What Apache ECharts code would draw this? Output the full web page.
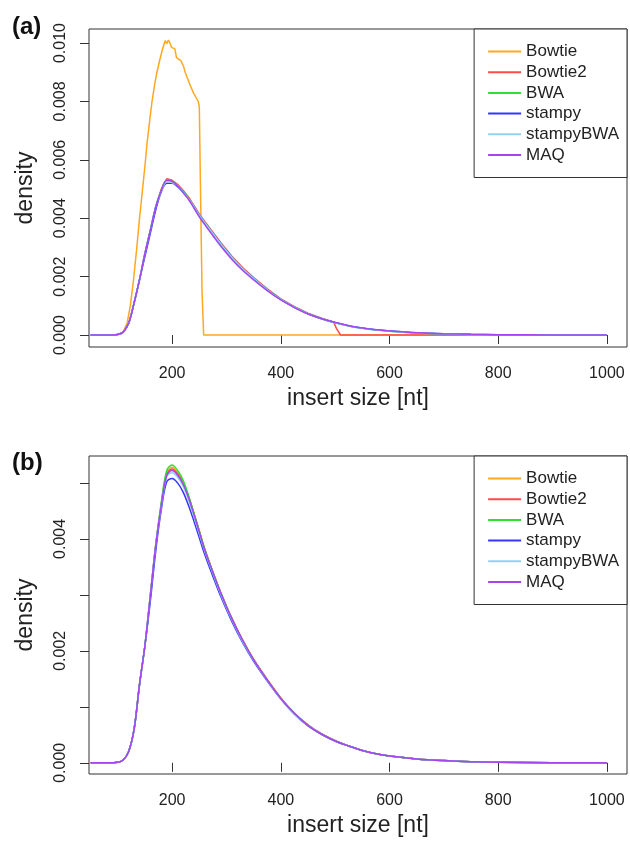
<!DOCTYPE html>
<html>
<head>
<meta charset="utf-8">
<script src="https://cdn.jsdelivr.net/npm/echarts@6/dist/echarts.min.js"></script>
<style>
  html, body { margin: 0; padding: 0; background: #fff; }
</style>
</head>
<body>
<div id="main" style="width: 630px;height:845px;"></div>
<script>
// tools, in legend order
const names = ['Bowtie', 'Bowtie2', 'BWA', 'stampy', 'stampyBWA', 'MAQ'];
const colors = ['#FFA820', '#FF4A4A', '#30E030', '#3535FF', '#90D4F0', '#A445F0'];

const xTicks = [200, 400, 600, 800, 1000];
const yTicksA = [0, 0.002, 0.004, 0.006, 0.008, 0.010];
const yTicksB = [0, 0.001, 0.002, 0.003, 0.004, 0.005];
const yLabelsB = [0, 0.002, 0.004];

// ---- panel (a) ----
const xBowtieA = [50, 80, 95, 105, 110, 117, 123, 129, 135, 140, 145, 150, 154, 159, 163, 168, 172, 177, 181, 184, 187, 190, 193, 196, 199, 202, 205, 208, 212, 216, 221, 224, 227, 233, 236, 239, 242, 245, 248, 250, 252, 255, 258, 300, 400, 500, 600, 700, 800, 900, 1000];
const yBowtieA = [0, 0, 0.00001, 0.00005, 0.0001, 0.0004, 0.001, 0.0019, 0.003, 0.004, 0.0049, 0.0058, 0.0066, 0.0074, 0.008, 0.0086, 0.009, 0.0094, 0.0097, 0.0099, 0.01008, 0.00998, 0.0101, 0.01, 0.00985, 0.00988, 0.0098, 0.0095, 0.00945, 0.0094, 0.0092, 0.009, 0.00885, 0.00856, 0.0085, 0.0083, 0.0082, 0.0081, 0.008, 0.0078, 0.0052, 0.0015, 0, 0, 0, 0, 0, 0, 0, 0, 0];

const xBowtie2A = [50, 80, 100, 110, 120, 130, 140, 150, 160, 170, 180, 190, 200, 210, 220, 230, 240, 250, 260, 275, 290, 310, 330, 350, 375, 400, 425, 450, 475, 497, 503, 510, 600, 700, 800, 900, 1000];
const yBowtie2A = [0, 0, 0.00002, 0.0001, 0.0004, 0.0011, 0.0019, 0.0028, 0.0036, 0.0044, 0.005, 0.00535, 0.0053, 0.00516, 0.00496, 0.00473, 0.00444, 0.00415, 0.00389, 0.00352, 0.00315, 0.0027, 0.0023, 0.00197, 0.00158, 0.00124, 0.00097, 0.00075, 0.00058, 0.00045, 0.0002, 0, 0, 0, 0, 0, 0];

const xA = [50, 80, 100, 110, 120, 130, 140, 150, 160, 170, 180, 190, 200, 210, 220, 230, 240, 250, 260, 275, 290, 310, 330, 350, 375, 400, 425, 450, 475, 500, 525, 550, 575, 600, 650, 700, 750, 800, 900, 1000];
const yBwaA = [0, 0, 0.00002, 0.0001, 0.0004, 0.0011, 0.0019, 0.0028, 0.0036, 0.0044, 0.00495, 0.0053, 0.00526, 0.00512, 0.00492, 0.0047, 0.0044, 0.00411, 0.00385, 0.00348, 0.00311, 0.00266, 0.00227, 0.00194, 0.00155, 0.00122, 0.00095, 0.00073, 0.00056, 0.00042, 0.00031, 0.00023, 0.00017, 0.00013, 0.00007, 0.00004, 0.00002, 0.00001, 0.000003, 0];
const yStampyA = [0, 0, 0.00002, 0.0001, 0.0004, 0.0011, 0.0019, 0.0027, 0.0035, 0.0043, 0.0049, 0.0052, 0.0052, 0.00508, 0.0049, 0.00468, 0.0044, 0.00411, 0.00385, 0.00348, 0.00311, 0.00266, 0.00227, 0.00194, 0.00155, 0.00122, 0.00095, 0.00073, 0.00056, 0.00043, 0.00032, 0.00024, 0.00018, 0.00014, 0.00008, 0.000045, 0.000025, 0.000012, 0.000004, 0];
const yStampyBwaA = [0, 0, 0.00002, 0.0001, 0.0004, 0.0011, 0.0019, 0.0028, 0.0036, 0.0044, 0.00492, 0.00525, 0.00522, 0.0051, 0.0049, 0.00468, 0.0044, 0.00411, 0.00385, 0.00348, 0.00311, 0.00266, 0.00227, 0.00194, 0.00155, 0.00122, 0.00095, 0.00073, 0.00056, 0.00042, 0.00031, 0.00023, 0.00017, 0.00013, 0.00007, 0.00004, 0.00002, 0.00001, 0.000003, 0];
const yMaqA = [0, 0, 0.00002, 0.0001, 0.0004, 0.0011, 0.0019, 0.0028, 0.0036, 0.0044, 0.00495, 0.0053, 0.00526, 0.0051, 0.00488, 0.00465, 0.00435, 0.00405, 0.00378, 0.0034, 0.00303, 0.00259, 0.00221, 0.00189, 0.00152, 0.0012, 0.00094, 0.00072, 0.00056, 0.00043, 0.00032, 0.00024, 0.00018, 0.00014, 0.00008, 0.000045, 0.000025, 0.000012, 0.000004, 0];

// ---- panel (b) ----
const xB = [50, 80, 100, 110, 120, 130, 140, 150, 160, 170, 180, 190, 200, 210, 220, 230, 240, 250, 260, 275, 290, 310, 330, 350, 375, 400, 425, 450, 475, 500, 525, 550, 575, 600, 650, 700, 750, 800, 900, 1000];
const yBowtieB = [0, 0, 0.00001, 0.00005, 0.0002, 0.0006, 0.0014, 0.0021, 0.003, 0.0039, 0.00462, 0.00518, 0.00528, 0.00518, 0.00502, 0.00476, 0.00445, 0.00413, 0.00381, 0.0034, 0.00302, 0.00257, 0.00218, 0.00184, 0.00148, 0.00115, 0.00088, 0.00067, 0.00051, 0.00039, 0.0003, 0.00022, 0.00016, 0.00012, 0.00007, 0.00004, 0.00002, 0.00001, 0.000003, 0];
const yBowtie2B = [0, 0, 0.00001, 0.00005, 0.0002, 0.0006, 0.0014, 0.0021, 0.003, 0.0039, 0.0046, 0.00515, 0.00525, 0.00516, 0.005, 0.00476, 0.00446, 0.00414, 0.00382, 0.00341, 0.00303, 0.00258, 0.00219, 0.00185, 0.00149, 0.00116, 0.00089, 0.00068, 0.00052, 0.0004, 0.0003, 0.00022, 0.00016, 0.00012, 0.00007, 0.00004, 0.00002, 0.00001, 0.000003, 0];
const yBwaB = [0, 0, 0.00001, 0.00005, 0.0002, 0.0006, 0.0014, 0.0021, 0.003, 0.0039, 0.00465, 0.00522, 0.00532, 0.00522, 0.00505, 0.00478, 0.00446, 0.00414, 0.00382, 0.00341, 0.00303, 0.00257, 0.00218, 0.00184, 0.00148, 0.00115, 0.00088, 0.00067, 0.00051, 0.00039, 0.0003, 0.00022, 0.00016, 0.00012, 0.00007, 0.00004, 0.00002, 0.00001, 0.000003, 0];
const yStampyB = [0, 0, 0.00001, 0.00005, 0.0002, 0.0006, 0.0014, 0.0021, 0.0029, 0.0038, 0.00452, 0.00502, 0.00508, 0.005, 0.00484, 0.0046, 0.00432, 0.00402, 0.00372, 0.00333, 0.00296, 0.00252, 0.00214, 0.00181, 0.00146, 0.00114, 0.00087, 0.00066, 0.00051, 0.00039, 0.0003, 0.00022, 0.00016, 0.00012, 0.00007, 0.00004, 0.00002, 0.00001, 0.000003, 0];
const yStampyBwaB = [0, 0, 0.00001, 0.00005, 0.0002, 0.0006, 0.0014, 0.0021, 0.003, 0.0039, 0.00458, 0.00511, 0.00518, 0.0051, 0.00494, 0.0047, 0.0044, 0.00409, 0.00378, 0.00338, 0.003, 0.00255, 0.00216, 0.00183, 0.00147, 0.00114, 0.00087, 0.00067, 0.00051, 0.00039, 0.0003, 0.00022, 0.00016, 0.00012, 0.00007, 0.00004, 0.00002, 0.00001, 0.000003, 0];
const yMaqB = [0, 0, 0.00001, 0.00005, 0.0002, 0.0006, 0.0014, 0.0021, 0.003, 0.0039, 0.0046, 0.00513, 0.00522, 0.00514, 0.00498, 0.00474, 0.00444, 0.00412, 0.0038, 0.0034, 0.00302, 0.00257, 0.00218, 0.00184, 0.00148, 0.00115, 0.00088, 0.00067, 0.00051, 0.00039, 0.0003, 0.00022, 0.00016, 0.00012, 0.00007, 0.00004, 0.00002, 0.00001, 0.000003, 0];

function pairs(xs, ys) {
  return xs.map((x, i) => [x, ys[i]]);
}

const panelA = [
  [xBowtieA, yBowtieA, false],
  [xBowtie2A, yBowtie2A, false],
  [xA, yBwaA, 0.35],
  [xA, yStampyA, 0.35],
  [xA, yStampyBwaA, 0.35],
  [xA, yMaqA, 0.35]
];
const panelB = [
  [xB, yBowtieB, 0.35],
  [xB, yBowtie2B, 0.35],
  [xB, yBwaB, 0.35],
  [xB, yStampyB, 0.35],
  [xB, yStampyBwaB, 0.35],
  [xB, yMaqB, 0.35]
];

let chartDom = document.getElementById('main');
let myChart = echarts.init(chartDom);
let option;

const font = "'Liberation Sans', Arial, sans-serif";
const ink = '#222';

function makeSeries(panel, idx) {
  return panel.map((p, i) => ({
    name: names[i],
    type: 'line',
    xAxisIndex: idx,
    yAxisIndex: idx,
    symbol: 'none',
    smooth: p[2],
    lineStyle: { width: 1.5, color: colors[i] },
    itemStyle: { color: colors[i] },
    data: pairs(p[0], p[1])
  }));
}

function xAxisFor(idx) {
  return {
    gridIndex: idx,
    type: 'value',
    min: 47,
    max: 1037,
    axisLine: { show: false },
    splitLine: { show: false },
    axisTick: { show: true, length: 9, customValues: xTicks, lineStyle: { color: '#333' } },
    axisLabel: {
      customValues: xTicks,
      fontSize: 16,
      margin: 19,
      color: ink,
      fontFamily: font,
      formatter: v => String(v)
    },
    name: 'insert size [nt]',
    nameLocation: 'middle',
    nameGap: 40,
    nameTextStyle: { fontSize: 23, color: ink, fontFamily: font }
  };
}

function yAxisFor(idx, min, max, ticks, labels) {
  return {
    gridIndex: idx,
    type: 'value',
    min: min,
    max: max,
    axisLine: { show: false },
    splitLine: { show: false },
    axisTick: { show: true, length: 9, customValues: ticks, lineStyle: { color: '#333' } },
    axisLabel: {
      customValues: labels,
      rotate: 90,
      fontSize: 16,
      margin: 20,
      color: ink,
      fontFamily: font,
      formatter: v => v.toFixed(3)
    },
    name: 'density',
    nameLocation: 'middle',
    nameGap: 52,
    nameTextStyle: { fontSize: 23, color: ink, fontFamily: font }
  };
}

function legendFor(top) {
  return {
    data: names,
    orient: 'vertical',
    right: 3,
    top: top,
    padding: [14, 8, 14, 14],
    icon: 'rect',
    itemWidth: 33,
    itemHeight: 2,
    itemGap: 3.7,
    itemTextGap: 15,
    borderColor: '#333',
    borderWidth: 1,
    backgroundColor: '#fff',
    textStyle: { fontSize: 17, lineHeight: 17, color: ink, fontFamily: font }
  };
}

option = {
  animation: false,
  textStyle: { fontFamily: font },
  title: [
    { text: '(a)', left: 12, top: 15, padding: 0, textStyle: { fontSize: 24, fontWeight: 'bold', color: '#111', fontFamily: font } },
    { text: '(b)', left: 12, top: 451, padding: 0, textStyle: { fontSize: 24, fontWeight: 'bold', color: '#111', fontFamily: font } }
  ],
  legend: [legendFor(29), legendFor(456)],
  grid: [
    { left: 89, top: 29, width: 538, height: 318, show: true, borderColor: '#333', borderWidth: 1, backgroundColor: 'transparent' },
    { left: 89, top: 456, width: 538, height: 318, show: true, borderColor: '#333', borderWidth: 1, backgroundColor: 'transparent' }
  ],
  xAxis: [xAxisFor(0), xAxisFor(1)],
  yAxis: [
    yAxisFor(0, -0.00041, 0.01048, yTicksA, yTicksA),
    yAxisFor(1, -0.0002, 0.00548, yTicksB, yLabelsB)
  ],
  series: makeSeries(panelA, 0).concat(makeSeries(panelB, 1))
};

option && myChart.setOption(option);
</script>
</body>
</html>
